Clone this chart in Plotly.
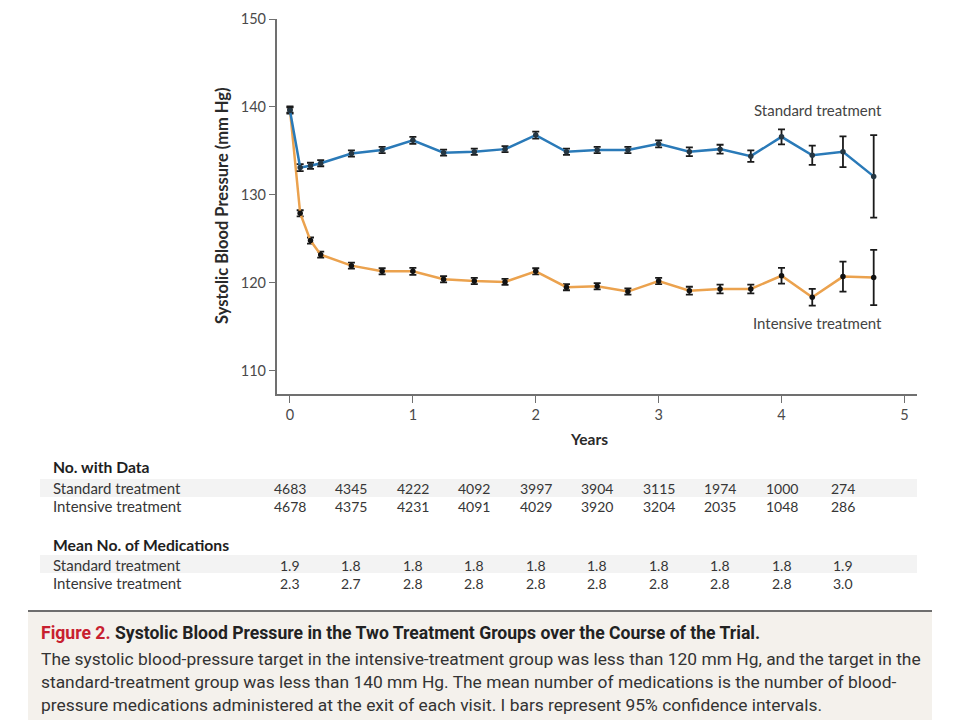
import plotly.graph_objects as go

W, H = 960, 720

years = [0, 0.083, 0.167, 0.25, 0.5, 0.75, 1, 1.25, 1.5, 1.75, 2, 2.25, 2.5, 2.75,
         3, 3.25, 3.5, 3.75, 4, 4.25, 4.5, 4.75]
standard_sbp = [139.6, 133.1, 133.3, 133.6, 134.7, 135.1, 136.2, 134.8, 134.9, 135.2,
                136.8, 134.9, 135.1, 135.1, 135.8, 134.9, 135.2, 134.4, 136.6, 134.5,
                134.9, 132.1]
standard_ci = [0.35, 0.4, 0.35, 0.35, 0.35, 0.35, 0.4, 0.35, 0.35, 0.35,
               0.4, 0.35, 0.35, 0.35, 0.4, 0.5, 0.5, 0.65, 0.85, 1.1, 1.75, 4.7]
intensive_sbp = [139.7, 127.9, 124.8, 123.2, 121.95, 121.3, 121.3, 120.4, 120.2, 120.1,
                 121.3, 119.5, 119.6, 119.0, 120.2, 119.1, 119.3, 119.3, 120.8, 118.35,
                 120.7, 120.6]
intensive_ci = [0.35, 0.35, 0.35, 0.35, 0.35, 0.35, 0.4, 0.35, 0.35, 0.35,
                0.35, 0.35, 0.35, 0.35, 0.35, 0.45, 0.5, 0.5, 0.9, 0.95, 1.7, 3.15]

table_years = [0, 0.5, 1, 1.5, 2, 2.5, 3, 3.5, 4, 4.5]
n_standard = ["4683", "4345", "4222", "4092", "3997", "3904", "3115", "1974", "1000", "274"]
n_intensive = ["4678", "4375", "4231", "4091", "4029", "3920", "3204", "2035", "1048", "286"]
med_standard = ["1.9", "1.8", "1.8", "1.8", "1.8", "1.8", "1.8", "1.8", "1.8", "1.9"]
med_intensive = ["2.3", "2.7", "2.8", "2.8", "2.8", "2.8", "2.8", "2.8", "2.8", "3.0"]

y_ticks = [110, 120, 130, 140, 150]
x_ticks = [0, 1, 2, 3, 4, 5]

BLUE = "#2a7ab8"
ORANGE = "#eba24e"
FONT = "Lato, 'Open Sans', sans-serif"
CAPFONT = "Roboto, 'Open Sans', sans-serif"
TXT = "#363636"
OFF = 8  # page body margin of the viewer


def px(x):
    return (x - OFF) / W


def py(y):
    return 1 - (y - OFF) / H


fig = go.Figure()
for name, vals, ci, col, mcol in [("Intensive treatment", intensive_sbp, intensive_ci, ORANGE, "#111111"),
                                  ("Standard treatment", standard_sbp, standard_ci, BLUE, "#253642")]:
    fig.add_trace(go.Scatter(
        x=years, y=vals, mode="lines+markers", name=name,
        line=dict(color=col, width=2.5),
        marker=dict(color=mcol, size=5.5),
        error_y=dict(type="data", array=ci, visible=True, color="#1a1a1a",
                     thickness=1.8, width=3.5),
        showlegend=False,
    ))

fig.update_layout(
    width=W, height=H,
    margin=dict(l=0, r=0, t=0, b=0),
    paper_bgcolor="white", plot_bgcolor="white",
    font=dict(family=FONT, color=TXT, size=12),
    xaxis=dict(domain=[px(276.7), px(916.7)], range=[-0.108, 5.1], automargin=False,
               tickvals=x_ticks, showline=True, linecolor="#707070", linewidth=1.6,
               ticks="outside", ticklen=7, tickcolor="#707070", tickwidth=1.4,
               showgrid=False, zeroline=False, tickfont=dict(size=14.5, color="#4a4a4a")),
    yaxis=dict(domain=[py(394), py(19)], range=[107.35, 150], automargin=False,
               tickvals=y_ticks, showline=True, linecolor="#707070", linewidth=1.6,
               ticks="outside", ticklen=6, tickcolor="#707070", tickwidth=1.4,
               showgrid=False, zeroline=False, tickfont=dict(size=14.5, color="#4a4a4a")),
)

shapes = []
for y0, y1 in [(479, 497), (555, 573)]:
    shapes.append(dict(type="rect", xref="paper", yref="paper", x0=px(40), x1=px(917),
                       y0=py(y1), y1=py(y0), fillcolor="#f3f3f3", line=dict(width=0),
                       layer="below"))
shapes.append(dict(type="rect", xref="paper", yref="paper", x0=px(28), x1=px(932),
                   y0=0, y1=py(611), fillcolor="#f4f1ec", line=dict(width=0), layer="below"))
shapes.append(dict(type="line", xref="paper", yref="paper", x0=px(28), x1=px(932),
                   y0=py(611), y1=py(611), line=dict(color="#6e6e6e", width=2)))
fig.update_layout(shapes=shapes)


def note(text, x, y, size, color, xanchor="center", xref="paper", family=None, angle=0):
    f = dict(size=size, color=color)
    if family:
        f["family"] = family
    return dict(text=text, x=x, y=y, xref=xref, yref="paper", xanchor=xanchor,
                yanchor="middle", showarrow=False, textangle=angle, font=f)


ann = []
ann.append(note("<b>Systolic Blood Pressure (mm Hg)</b>", px(222), py(206), 16.5,
                "#2a2a2a", angle=-90))
ann.append(note("<b>Years</b>", px(589), py(439), 15.5, "#2a2a2a"))
ann.append(note("Standard treatment", px(884), py(110), 15, "#444", xanchor="right"))
ann.append(note("Intensive treatment", px(884), py(323), 15, "#444", xanchor="right"))

rows = [("<b>No. with Data</b>", 467, None, 15.7, "#1e1e1e"),
        ("Standard treatment", 488, n_standard, 15, TXT),
        ("Intensive treatment", 506, n_intensive, 15, TXT),
        ("<b>Mean No. of Medications</b>", 545, None, 15.7, "#1e1e1e"),
        ("Standard treatment", 565, med_standard, 15, TXT),
        ("Intensive treatment", 583, med_intensive, 15, TXT)]
for label, yy, vals, fs, col in rows:
    ann.append(note(label, px(51), py(yy), fs, col, xanchor="left"))
    if vals:
        for xv, v in zip(table_years, vals):
            ann.append(note(v, xv, py(yy), 14, TXT, xref="x"))

ann.append(note("<b><span style='color:#c8202f'>Figure 2.</span> "
                "Systolic Blood Pressure in the Two Treatment Groups over the Course of the Trial.</b>",
                px(39), py(633), 17.6, "#222", xanchor="left", family=CAPFONT))
cap_lines = ["The systolic blood-pressure target in the intensive-treatment group was less than 120 mm Hg, and the target in the",
             "standard-treatment group was less than 140 mm Hg. The mean number of medications is the number of blood-",
             "pressure medications administered at the exit of each visit. I bars represent 95% confidence intervals."]
for i, line in enumerate(cap_lines):
    ann.append(note(line, px(39), py(659 + 23 * i), 17.4, "#333", xanchor="left",
                    family=CAPFONT))
fig.update_layout(annotations=ann)

fig.write_html("out.html")
